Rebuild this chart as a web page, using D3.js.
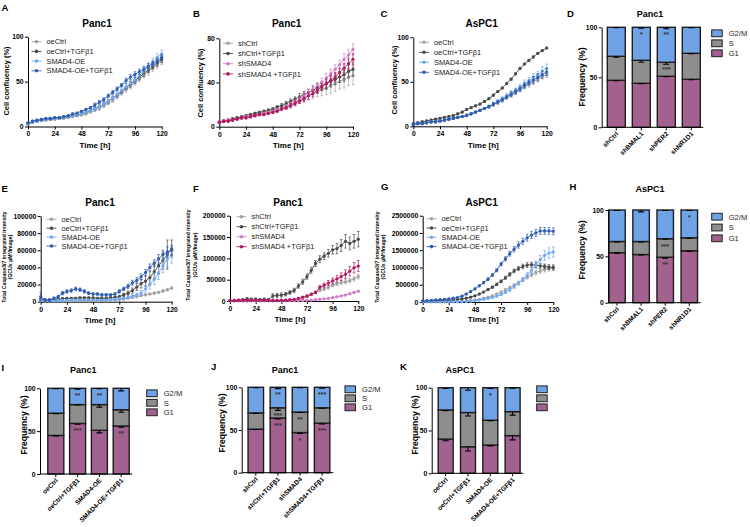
<!DOCTYPE html>
<html>
<head>
<meta charset="utf-8">
<script src="https://cdn.jsdelivr.net/npm/d3@7"></script>
<style>
body { margin: 0; background: #fff; }
svg { display: block; font-family: "Liberation Sans", Arial, sans-serif; }
</style>
</head>
<body>
<svg id="fig" width="750" height="527"></svg>
<script>
// time points (h)
const hours = [0,4,8,12,16,20,24,28,32,36,40,44,48,52,56,60,64,68,72,76,80,84,88,92,96,100,104,108,112,116,120];
const timeTicks = [0,24,48,72,96,120];

// ---- A: Panc1 confluency, SMAD4 overexpression
const A_names = ["oeCtrl","oeCtrl+TGFβ1","SMAD4-OE","SMAD4-OE+TGFβ1"];
const A_oeCtrl = [3,5,6,7,7,8,8,9,9,10,11,12,13,14,16,18,20,23,26,29,33,37,41,45,49,53,57,61,65,69,73];
const A_oeCtrlT = [3,5,6,7,8,8,9,9,10,11,12,13,14,16,18,20,22,25,28,32,35,39,43,47,51,55,59,63,67,71,75];
const A_oe = [3,5,6,7,8,8,9,9,10,11,12,13,14,16,18,20,22,25,28,32,36,40,44,48,52,57,62,67,72,77,81];
const A_oeT = [4,6,7,8,9,9,10,10,11,12,14,15,17,19,21,24,27,30,34,38,42,46,51,55,58,61,64,67,70,73,77];
const A_err1 = [1,1,1,1,1,1,1,1,1,1,1,1,1,1,1,1,2,2,2,2,2,2,3,3,3,3,3,4,4,4,4];
const A_err2 = [1,1,1,1,1,1,1,1,1,1,1,1,1,1,1,1,1,2,2,2,2,2,2,3,3,3,3,3,3,4,4];
const A_err3 = [1,1,1,1,1,1,1,1,1,1,1,1,1,1,1,2,2,2,2,2,3,3,3,3,3,4,4,4,4,4,4];
const A_err4 = [1,1,1,1,1,1,1,1,1,1,1,1,1,1,1,2,2,2,2,2,2,2,3,3,3,3,3,3,3,3,3];

// ---- B: Panc1 confluency, SMAD4 knockdown
const B_names = ["shCtrl","shCtrl+TGFβ1","shSMAD4","shSMAD4 +TGFβ1"];
const B_sh = [4,5,6,7,8,8,9,10,11,12,13,14,15,16,17,19,20,22,24,26,28,30,32,34,35,37,39,41,43,45,46];
const B_shT = [4,5,6,7,8,9,10,11,12,13,14,15,16,18,19,21,23,25,27,29,31,33,35,37,39,41,43,45,47,50,52];
const B_kd = [4,5,6,6,7,8,9,9,10,11,12,13,14,15,16,18,20,22,25,28,31,34,37,40,44,48,52,56,61,65,70];
const B_kdT = [4,5,5,6,7,8,8,9,10,11,11,12,13,14,16,17,19,21,23,25,28,30,33,36,39,42,45,49,53,57,61];
const B_err1 = [1,1,1,1,1,1,1,1,1,1,1,1,2,2,2,2,2,3,3,4,4,5,5,6,6,7,7,7,8,8,8];
const B_err2 = [1,1,1,1,1,1,1,1,1,1,1,1,1,1,2,2,2,2,3,3,3,4,4,4,5,5,5,5,6,6,6];
const B_err3 = [1,1,1,1,1,1,1,1,1,1,1,1,1,1,1,2,2,2,2,3,3,3,3,4,4,4,4,4,5,5,5];
const B_err4 = [1,1,1,1,1,1,1,1,1,1,1,1,1,1,1,1,2,2,2,2,3,3,3,3,4,4,4,4,4,5,5];

// ---- C: AsPC1 confluency
const C_oeCtrl = [2,3,4,4,5,6,6,7,8,9,10,11,13,14,16,18,20,22,24,27,29,32,35,38,41,44,47,50,53,56,58];
const C_oeCtrlT = [3,4,5,6,7,8,9,10,11,12,14,16,19,21,23,25,28,31,35,39,43,48,53,59,65,70,74,78,82,85,88];
const C_oe = [2,3,3,4,5,5,6,7,8,9,10,11,12,14,16,18,20,22,25,28,31,34,37,40,44,48,51,55,58,62,65];
const C_oeT = [2,3,3,4,5,5,6,7,8,9,10,11,12,14,16,18,20,22,25,27,30,33,36,39,42,46,49,52,55,58,61];
const C_err1 = [1,1,1,1,1,1,1,1,1,1,1,1,1,1,1,1,1,1,1,2,2,2,2,2,2,2,3,3,3,3,3];
const C_err2 = [1,1,1,1,1,1,1,1,1,1,1,1,1,1,1,1,1,1,1,1,1,1,1,1,1,1,1,1,1,1,1];
const C_err3 = [1,1,1,1,1,1,1,1,1,1,1,1,1,1,1,1,1,2,2,2,2,3,3,3,3,4,4,4,4,5,5];
const C_err4 = [1,1,1,1,1,1,1,1,1,1,1,1,1,1,1,1,1,1,2,2,2,2,3,3,3,3,3,4,4,4,4];

// ---- E: Panc1 caspase 3/7
const E_oeCtrl = [2000,1000,1000,1000,1000,1000,1000,1000,1000,1000,1000,1000,1000,1000,1500,1500,2000,2000,2500,3000,4000,5000,6000,7000,8000,9000,10000,11000,12500,14000,16000];
const E_oeCtrlT = [3000,2000,2000,2500,3000,3500,4000,4000,4000,4500,4500,4500,4500,4000,4000,4000,4500,5000,6000,8000,10000,13000,17000,21000,24000,28000,35000,42000,48000,55000,62000];
const E_oe = [1500,1000,1000,1000,1500,1500,1500,2000,2000,2000,2000,2000,2000,2000,2000,2000,2500,3000,3500,4000,5000,6500,8000,10000,15000,20000,26000,33000,42000,50000,55000];
const E_oeT = [6000,2000,2000,4000,6000,10000,12000,13000,15000,14000,12000,10000,9000,9000,8000,8000,8000,9000,12000,15000,18000,22000,25000,29000,34000,40000,45000,50000,55000,58000,60000];
const E_err1 = [2000,500,500,500,500,500,500,500,500,500,500,500,500,500,500,500,500,500,500,500,800,800,1000,1000,1000,1000,1200,1200,1500,1500,1500];
const E_err2 = [1000,800,800,800,800,1000,1000,1000,1000,1000,1000,1000,1000,1000,1000,1000,1000,1000,1500,2000,2500,3000,4000,5000,6000,7000,8000,9000,10000,17000,10000];
const E_err3 = [1000,500,500,500,500,500,500,500,500,500,500,500,500,500,500,500,500,500,500,800,1000,1500,2000,3000,4000,5000,6000,7000,8000,9000,10000];
const E_err4 = [5000,1500,1500,1500,1500,2000,2000,2000,2000,2000,2000,1500,1500,1500,1500,1500,1500,1500,2000,2000,2500,3000,3000,3500,3500,4000,4000,5000,5000,6000,6000];

// ---- F: Panc1 caspase 3/7, knockdown
const F_sh = [500,500,500,500,500,500,500,500,500,800,1000,1000,1200,1500,2000,2500,3500,5000,10000,15000,20000,25000,28000,32000,37000,40000,43000,45000,48000,52000,57000];
const F_shT = [1000,1500,2000,3000,5000,4000,4000,3000,4000,3000,12000,13000,14000,16000,20000,25000,35000,45000,57000,72000,88000,98000,105000,112000,120000,123000,130000,140000,135000,140000,145000];
const F_kd = [300,300,300,300,300,300,300,300,300,300,300,300,500,500,500,800,1000,1000,1500,2000,3000,4000,5000,6000,8000,10000,12000,14000,17000,20000,23000];
const F_kdT = [1000,1000,2000,2000,2000,2000,2000,2000,2000,1500,1500,1500,2000,2000,3000,4000,6000,9000,12000,16000,20000,32000,37000,42000,47000,52000,57000,63000,70000,78000,82000];
const F_err1 = [300,300,300,300,300,300,300,300,300,300,500,500,500,500,500,800,1000,1000,1500,2000,2000,3000,3000,4000,4000,4000,4000,5000,5000,5000,5000];
const F_err2 = [1000,1000,1500,2000,3000,3000,3000,2000,3000,2000,5000,5000,5000,4000,4000,5000,5000,6000,6000,7000,7000,8000,8000,9000,10000,12000,14000,16000,15000,16000,18000];
const F_err3 = [200,200,200,200,200,200,200,200,200,200,200,200,300,300,300,300,500,500,500,500,800,800,1000,1000,1000,1200,1200,1500,1500,1500,2000];
const F_err4 = [1000,1000,1000,1000,1000,1000,1000,1000,1000,1000,1000,1000,1000,1000,1000,1000,1500,1500,2000,2000,3000,4000,5000,6000,7000,8000,9000,10000,11000,12000,13000];

// ---- G: AsPC1 caspase 3/7
const G_oeCtrl = [10000,10000,10000,10000,10000,10000,10000,15000,20000,25000,30000,40000,60000,80000,110000,140000,180000,230000,290000,350000,420000,490000,560000,640000,720000,790000,850000,900000,940000,970000,990000];
const G_oeCtrlT = [20000,25000,30000,35000,40000,45000,50000,60000,70000,90000,110000,140000,180000,230000,290000,360000,430000,510000,600000,700000,800000,900000,970000,1030000,1070000,1080000,1070000,1050000,1030000,1010000,1000000];
const G_oe = [5000,5000,5000,5000,5000,5000,5000,5000,10000,10000,15000,20000,40000,60000,80000,100000,130000,170000,220000,280000,350000,440000,540000,650000,780000,920000,1080000,1230000,1350000,1420000,1450000];
const G_oeT = [30000,40000,50000,60000,70000,80000,90000,110000,130000,170000,230000,300000,380000,470000,560000,660000,780000,920000,1100000,1250000,1400000,1530000,1650000,1760000,1860000,1940000,2000000,2060000,2060000,2060000,2050000];
const G_err1 = [5000,5000,5000,5000,5000,5000,5000,5000,5000,5000,8000,8000,10000,10000,15000,15000,20000,20000,25000,30000,35000,40000,45000,50000,55000,60000,65000,70000,70000,75000,80000];
const G_err2 = [5000,5000,5000,5000,5000,5000,5000,8000,8000,10000,10000,15000,15000,20000,20000,25000,30000,35000,40000,45000,50000,55000,60000,65000,70000,70000,70000,70000,70000,70000,70000];
const G_err3 = [3000,3000,3000,3000,3000,3000,3000,3000,5000,5000,5000,8000,10000,10000,15000,15000,20000,20000,25000,30000,35000,40000,50000,60000,70000,80000,100000,120000,150000,150000,150000];
const G_err4 = [8000,8000,8000,8000,8000,8000,10000,10000,10000,15000,15000,20000,20000,25000,30000,35000,40000,45000,50000,60000,70000,80000,90000,90000,100000,100000,100000,100000,100000,100000,100000];

// ---- cell-cycle bars (%)
const phases = ["G1","S","G2/M"];
const legendOrder = ["G2/M","S","G1"];
const D_cats = ["shCtrl","shBMAL1","shPER2","shNR1D1"];
const D_G1 = [47,44,51,48], D_S = [24,23,14,26], D_G2M = [29,33,35,26];
const D_eG1 = [0.5,0.5,0.5,0.5], D_eS = [1,2,2,0.5], D_eG2M = [0.5,1,1.5,0.5];
const D_stG1 = ["","","",""], D_stS = ["","","***",""], D_stG2M = ["","*","**",""];

const H_cats = ["shCtrl","shBMAL1","shPER2","shNR1D1"];
const H_G1 = [54,52,49,56], H_S = [12,14,20,14], H_G2M = [34,34,31,30];
const H_eG1 = [0.5,0.5,1,0.5], H_eS = [0.5,0.5,0.5,0.5], H_eG2M = [0.5,2,0.5,0.5];
const H_stG1 = ["","","**",""], H_stS = ["","","***",""], H_stG2M = ["","","","*"];

const I_cats = ["oeCtrl","oeCtrl+TGFβ1","SMAD4-OE","SMAD4-OE+TGFβ1"];
const I_G1 = [45,59,51,56], I_S = [26,22,30,19], I_G2M = [29,19,19,25];
const I_eG1 = [0.5,1,3,1.5], I_eS = [0.5,0.5,3,3], I_eG2M = [0.5,1,0.5,3];
const I_stG1 = ["","***","","**"], I_stS = ["","","",""], I_stG2M = ["","**","**",""];

const J_cats = ["shCtrl","shCtrl+TGFβ1","shSMAD4","shSMAD4+TGFβ1"];
const J_G1 = [51,64,47,58], J_S = [19,12,24,18], J_G2M = [30,24,29,24];
const J_eG1 = [0.5,1,1,1], J_eS = [0.5,3,0.5,0.5], J_eG2M = [0.5,1.5,0.5,1];
const J_stG1 = ["","***","*","***"], J_stS = ["","***","**",""], J_stG2M = ["","**","","***"];

const K_cats = ["oeCtrl","oeCtrl+TGFβ1","SMAD4-OE","SMAD4-OE+TGFβ1"];
const K_G1 = [40,31,33,44], K_S = [34,40,29,28], K_G2M = [26,29,38,28];
const K_eG1 = [2,5,1,5], K_eS = [1,4,0.5,4], K_eG2M = [1,3,1,0.5];
const K_stG1 = ["","","",""], K_stS = ["","","",""], K_stG2M = ["","","*",""];

// colours
const cLightGrey = "#a3a3a3", cDarkGrey = "#4a4a4a", cLightBlue = "#72a9f0", cBlue = "#2f5cae";
const cOrchid = "#d27cc4", cCrimson = "#b3185f";
const phaseColor = {"G1": "#a3618f", "S": "#8e8e8e", "G2/M": "#6fa3e6"};

const svg = d3.select("#fig");
const FONT = "'Liberation Sans', Arial, sans-serif";

function txt(g, x, y, s, size, opts = {}) {
  const t = g.append("text").attr("x", x).attr("y", y).text(s)
    .attr("font-size", size).attr("font-weight", opts.weight || "bold")
    .attr("text-anchor", opts.anchor || "middle").attr("fill", opts.fill || "#000");
  if (opts.rotate) t.attr("transform", `rotate(${opts.rotate},${x},${y})`).attr("x", x).attr("y", y);
  return t;
}

function styleAxis(a, size) {
  a.selectAll("path, line").attr("stroke", "#000").attr("stroke-width", 1);
  a.selectAll("text").attr("font-size", size).attr("font-weight", "bold")
    .attr("font-family", FONT).attr("fill", "#000");
}

function linePanel(p) {
  const g = svg.append("g");
  const x = d3.scaleLinear().domain([0, 120]).range([p.x0, p.x1]);
  const y = d3.scaleLinear().domain([0, p.ymax]).range([p.yBot, p.yTop]);

  const ax = g.append("g").attr("transform", `translate(0,${p.yBot})`)
    .call(d3.axisBottom(x).tickValues(timeTicks).tickSize(3).tickSizeOuter(0).tickPadding(2));
  styleAxis(ax, 6.8);
  const ay = g.append("g").attr("transform", `translate(${p.x0},0)`)
    .call(d3.axisLeft(y).tickValues(p.yticks).tickSize(3).tickSizeOuter(0).tickPadding(1.5).tickFormat(d3.format("d")));
  styleAxis(ay, 6.8);

  const line = d3.line().x((d, i) => x(hours[i])).y(d => y(d));
  p.series.forEach(s => {
    const sg = g.append("g");
    sg.selectAll("g.eb").data(s.v).enter().append("path")
      .attr("d", (d, i) => {
        const xx = x(hours[i]), y1 = y(Math.max(0, d - s.e[i])), y2 = y(d + s.e[i]);
        return `M${xx},${y1}V${y2}M${xx - 1.3},${y1}H${xx + 1.3}M${xx - 1.3},${y2}H${xx + 1.3}`;
      })
      .attr("stroke", s.c).attr("stroke-width", 0.7).attr("fill", "none");
    sg.append("path").datum(s.v).attr("d", line)
      .attr("fill", "none").attr("stroke", s.c).attr("stroke-width", 0.9);
    sg.selectAll("circle").data(s.v).enter().append("circle")
      .attr("cx", (d, i) => x(hours[i])).attr("cy", d => y(d)).attr("r", 1.6).attr("fill", s.c);
  });

  // legend
  p.series.forEach((s, i) => {
    const yy = p.ly + i * p.ldy;
    g.append("line").attr("x1", p.lx).attr("x2", p.lx + 10).attr("y1", yy).attr("y2", yy)
      .attr("stroke", s.c).attr("stroke-width", 0.9);
    g.append("circle").attr("cx", p.lx + 5).attr("cy", yy).attr("r", 1.8).attr("fill", s.c);
    txt(g, p.lx + 15, yy + 2.6, s.name, 7.4, {anchor: "start", weight: "normal", fill: "#222"});
  });

  txt(g, p.tx, p.ty, p.title, 10);
  txt(g, p.xlx, p.xly, "Time [h]", 8);
  p.ylab.forEach(l => txt(g, l[0], l[1], l[2], l[3], {rotate: -90}));
  txt(g, p.letter[1], p.letter[2], p.letter[0], 9.5, {anchor: "start"});
}

function barPanel(p) {
  const g = svg.append("g");
  const rows = p.cats.map((c, i) => ({cat: c, "G1": p.G1[i], "S": p.S[i], "G2/M": p.G2M[i]}));
  const errs = {"G1": p.eG1, "S": p.eS, "G2/M": p.eG2M};
  const stars = {"G1": p.stG1, "S": p.stS, "G2/M": p.stG2M};
  const stack = d3.stack().keys(phases)(rows);
  const pad = 1 - p.bw / p.step;
  const x = d3.scaleBand().domain(p.cats)
    .range([p.c0 - p.step / 2, p.c0 - p.step / 2 + p.cats.length * p.step])
    .paddingInner(pad).paddingOuter(pad / 2);
  const y = d3.scaleLinear().domain([0, 100]).range([p.yBot, p.yTop]);

  stack.forEach(layer => {
    const k = layer.key;
    g.selectAll(null).data(layer).enter().append("rect")
      .attr("x", d => x(d.data.cat)).attr("width", x.bandwidth())
      .attr("y", d => y(d[1])).attr("height", d => y(d[0]) - y(d[1]))
      .attr("fill", phaseColor[k]).attr("stroke", "#1e1e1e").attr("stroke-width", 1.4);
  });
  stack.forEach(layer => {
    const k = layer.key;
    layer.forEach((d, i) => {
      const cx = x(d.data.cat) + x.bandwidth() / 2;
      const yt = y(d[1]), yb = y(d[1] - errs[k][i]);
      g.append("path").attr("d", `M${cx},${yt}V${yb}M${cx - 3},${yb}H${cx + 3}`)
        .attr("stroke", "#000").attr("stroke-width", 1.1).attr("fill", "none");
      if (stars[k][i]) txt(g, cx, yt + 10, stars[k][i], 7, {fill: "#333"});
    });
  });

  const ay = g.append("g").attr("transform", `translate(${p.axX},0)`)
    .call(d3.axisLeft(y).tickValues([0, 50, 100]).tickSize(3).tickSizeOuter(0).tickPadding(1.5));
  styleAxis(ay, 6.8);
  g.append("line").attr("x1", p.axX).attr("x2", p.axEnd).attr("y1", p.yBot).attr("y2", p.yBot)
    .attr("stroke", "#000").attr("stroke-width", 1);
  p.cats.forEach(c => {
    const cx = x(c) + x.bandwidth() / 2;
    g.append("line").attr("x1", cx).attr("x2", cx).attr("y1", p.yBot).attr("y2", p.yBot + 3)
      .attr("stroke", "#000").attr("stroke-width", 1);
    txt(g, cx + 2.5, p.yBot + 7, c, 6.5, {anchor: "end", rotate: -45});
  });

  legendOrder.forEach((k, i) => {
    const yy = p.ly + i * p.ldy;
    g.append("rect").attr("x", p.lx).attr("y", yy - 3.4).attr("width", 10.5).attr("height", 6.8)
      .attr("fill", phaseColor[k]).attr("stroke", "#1e1e1e").attr("stroke-width", 1);
    if (p.legendText) txt(g, p.lx + 17, yy + 2.8, k, 7.6, {anchor: "start", weight: "normal", fill: "#222"});
  });

  txt(g, p.tx, p.ty, p.title, 9);
  txt(g, p.ylx, p.yly, "Frequency (%)", 8.6, {rotate: -90});
  if (p.letter) txt(g, p.letter[1], p.letter[2], p.letter[0], 9.5, {anchor: "start"});
}

// ---- line panels
linePanel({title: "Panc1", tx: 97, ty: 27.3, letter: ["A", 1.5, 10.5],
  x0: 28, x1: 161.7, yTop: 36.7, yBot: 126.5, ymax: 100, yticks: [0, 50, 100],
  xlx: 95, xly: 148, ylab: [[9, 81, "Cell confluency (%)", 7.5]],
  lx: 31.5, ly: 41.7, ldy: 9.7,
  series: [
    {name: A_names[0], v: A_oeCtrl, e: A_err1, c: cLightGrey},
    {name: A_names[1], v: A_oeCtrlT, e: A_err2, c: cDarkGrey},
    {name: A_names[2], v: A_oe, e: A_err3, c: cLightBlue},
    {name: A_names[3], v: A_oeT, e: A_err4, c: cBlue}]});

linePanel({title: "Panc1", tx: 286.7, ty: 27.3, letter: ["B", 193, 16.7],
  x0: 219.3, x1: 353, yTop: 38.3, yBot: 126.7, ymax: 80, yticks: [0, 40, 80],
  xlx: 288.3, xly: 147.5, ylab: [[203, 83, "Cell confluency (%)", 7.5]],
  lx: 223, ly: 43.3, ldy: 10.2,
  series: [
    {name: B_names[0], v: B_sh, e: B_err1, c: cLightGrey},
    {name: B_names[1], v: B_shT, e: B_err2, c: cDarkGrey},
    {name: B_names[2], v: B_kd, e: B_err3, c: cOrchid},
    {name: B_names[3], v: B_kdT, e: B_err4, c: cCrimson}]});

linePanel({title: "AsPC1", tx: 481.7, ty: 27.3, letter: ["C", 380.5, 16.7],
  x0: 413.3, x1: 546.7, yTop: 37.3, yBot: 126.3, ymax: 100, yticks: [0, 50, 100],
  xlx: 483.3, xly: 147.5, ylab: [[396.5, 80, "Cell confluency (%)", 7.5]],
  lx: 419, ly: 42.3, ldy: 10,
  series: [
    {name: A_names[0], v: C_oeCtrl, e: C_err1, c: cLightGrey},
    {name: A_names[1], v: C_oeCtrlT, e: C_err2, c: cDarkGrey},
    {name: A_names[2], v: C_oe, e: C_err3, c: cLightBlue},
    {name: A_names[3], v: C_oeT, e: C_err4, c: cBlue}]});

const casp1 = "Total Caspase3/7 integrated intensity", casp2 = "(GCUx µM²/Image)";

linePanel({title: "Panc1", tx: 100, ty: 205.7, letter: ["E", 1.5, 191.7],
  x0: 40.7, x1: 171.7, yTop: 216, yBot: 301.7, ymax: 100000, yticks: [0, 20000, 40000, 60000, 80000, 100000],
  xlx: 100, xly: 323, ylab: [[5.6, 257, casp1, 5.2], [12, 257, casp2, 5.2]],
  lx: 46.5, ly: 219.3, ldy: 8.9,
  series: [
    {name: A_names[0], v: E_oeCtrl, e: E_err1, c: cLightGrey},
    {name: A_names[1], v: E_oeCtrlT, e: E_err2, c: cDarkGrey},
    {name: A_names[2], v: E_oe, e: E_err3, c: cLightBlue},
    {name: A_names[3], v: E_oeT, e: E_err4, c: cBlue}]});

linePanel({title: "Panc1", tx: 288, ty: 205.7, letter: ["F", 193, 191.7],
  x0: 230, x1: 358.3, yTop: 215.7, yBot: 301, ymax: 200000, yticks: [0, 50000, 100000, 150000, 200000],
  xlx: 290, xly: 322, ylab: [[190.2, 255, casp1, 5.2], [196.6, 255, casp2, 5.2]],
  lx: 236.5, ly: 216.7, ldy: 10,
  series: [
    {name: B_names[0], v: F_sh, e: F_err1, c: cLightGrey},
    {name: B_names[1], v: F_shT, e: F_err2, c: cDarkGrey},
    {name: B_names[2], v: F_kd, e: F_err3, c: cOrchid},
    {name: B_names[3], v: F_kdT, e: F_err4, c: cCrimson}]});

linePanel({title: "AsPC1", tx: 481.7, ty: 205.7, letter: ["G", 381, 190],
  x0: 422.7, x1: 553.3, yTop: 215.7, yBot: 302, ymax: 2500000, yticks: [0, 500000, 1000000, 1500000, 2000000, 2500000],
  xlx: 483.3, xly: 322, ylab: [[378.6, 257, casp1, 5.2], [384.8, 257, casp2, 5.2]],
  lx: 426.5, ly: 218.7, ldy: 9.3,
  series: [
    {name: "oeCtrl", v: G_oeCtrl, e: G_err1, c: cLightGrey},
    {name: "oeCtrl+TGFβ1", v: G_oeCtrlT, e: G_err2, c: cDarkGrey},
    {name: "SMAD4-OE", v: G_oe, e: G_err3, c: cLightBlue},
    {name: "SMAD4-OE+TGFβ1", v: G_oeT, e: G_err4, c: cBlue}]});

// ---- bar panels
barPanel({title: "Panc1", tx: 650, ty: 16.7, letter: ["D", 567, 16.7],
  cats: D_cats, G1: D_G1, S: D_S, G2M: D_G2M, eG1: D_eG1, eS: D_eS, eG2M: D_eG2M,
  stG1: D_stG1, stS: D_stS, stG2M: D_stG2M,
  axX: 601.7, axEnd: 703.3, c0: 616.3, step: 25, bw: 18, yTop: 27.3, yBot: 127.3,
  ylx: 585, yly: 77, lx: 711.7, ly: 33.3, ldy: 10, legendText: true});

barPanel({title: "AsPC1", tx: 650, ty: 191.7, letter: ["H", 569.5, 190],
  cats: H_cats, G1: H_G1, S: H_S, G2M: H_G2M, eG1: H_eG1, eS: H_eS, eG2M: H_eG2M,
  stG1: H_stG1, stS: H_stS, stG2M: H_stG2M,
  axX: 608.3, axEnd: 700.7, c0: 617, step: 24.1, bw: 16.5, yTop: 210, yBot: 302.7,
  ylx: 585, yly: 250, lx: 711.7, ly: 216.7, ldy: 10.8, legendText: true});

barPanel({title: "Panc1", tx: 83.3, ty: 373.3, letter: ["I", 1.5, 371],
  cats: I_cats, G1: I_G1, S: I_S, G2M: I_G2M, eG1: I_eG1, eS: I_eS, eG2M: I_eG2M,
  stG1: I_stG1, stS: I_stS, stG2M: I_stG2M,
  axX: 40, axEnd: 132.3, c0: 55.8, step: 21.8, bw: 16, yTop: 388.3, yBot: 474,
  ylx: 26.5, yly: 425, lx: 146.7, ly: 393.3, ldy: 9.5, legendText: true});

barPanel({title: "Panc1", tx: 285, ty: 373.3, letter: ["J", 211, 370],
  cats: J_cats, G1: J_G1, S: J_S, G2M: J_G2M, eG1: J_eG1, eS: J_eS, eG2M: J_eG2M,
  stG1: J_stG1, stS: J_stS, stG2M: J_stG2M,
  axX: 241.7, axEnd: 333.3, c0: 255.8, step: 22.1, bw: 15.5, yTop: 387.3, yBot: 472.7,
  ylx: 225, yly: 423, lx: 345, ly: 389.3, ldy: 9, legendText: true});

barPanel({title: "AsPC1", tx: 460, ty: 373.3, letter: ["K", 400, 370],
  cats: K_cats, G1: K_G1, S: K_S, G2M: K_G2M, eG1: K_eG1, eS: K_eS, eG2M: K_eG2M,
  stG1: K_stG1, stS: K_stS, stG2M: K_stG2M,
  axX: 431.7, axEnd: 523.3, c0: 445.7, step: 22.3, bw: 15, yTop: 387.7, yBot: 473.3,
  ylx: 418, yly: 425, lx: 536.7, ly: 389.3, ldy: 9, legendText: false});
</script>
</body>
</html>
